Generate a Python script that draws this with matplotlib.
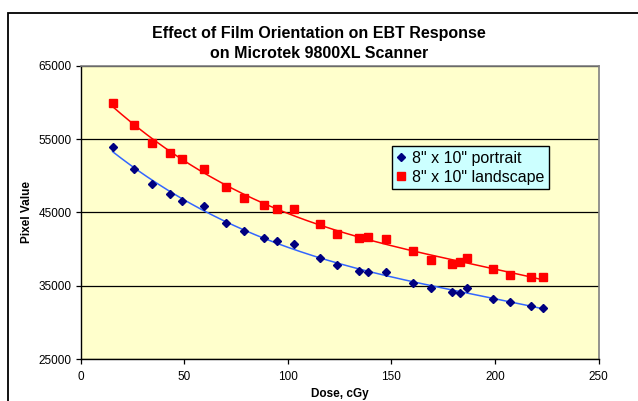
import numpy as np
import matplotlib.pyplot as plt
from matplotlib.patches import Rectangle

plt.rcParams['font.family'] = ['Liberation Sans', 'DejaVu Sans']

# Dose (cGy) for each scanned film strip
dose = [15.5, 25.8, 34.7, 43.3, 49.0, 59.7, 70.1, 79.1, 88.7, 95.0,
        103.2, 115.6, 123.9, 134.4, 138.8, 147.3, 160.3, 169.0, 179.3, 183.3,
        186.7, 198.9, 207.4, 217.6, 223.2]

portrait = [53870, 50900, 48860, 47540, 46540, 45860, 43500, 42410, 41450, 41100,
            40630, 38720, 37770, 37030, 36860, 36900, 35350, 34630, 34130, 34030,
            34710, 33210, 32720, 32220, 31900]

landscape = [59910, 56950, 54410, 53050, 52230, 50950, 48490, 46910, 45950, 45520,
             45450, 43400, 42040, 41450, 41590, 41360, 39760, 38490, 37990, 38260,
             38770, 37220, 36410, 36130, 36210]

labels = ['8" x 10" portrait', '8" x 10" landscape']


def trend(x, y, deg=3):
    # polynomial trendline over the measured dose range
    c = np.polyfit(x, y, deg)
    xs = np.linspace(min(x), max(x), 200)
    return xs, np.polyval(c, xs)


def main():
    fig = plt.figure(figsize=(6.38, 4.01), dpi=100)
    ax = fig.add_axes([80.5 / 638, 1 - 359 / 401, 518 / 638, 293.3 / 401])
    ax.set_facecolor('#FFFFCC')

    # chart border
    fig.patches.append(Rectangle((7.5 / 638, -0.2), 1.2, 0.2 + 1 - 12.5 / 401,
                                 transform=fig.transFigure, fill=False,
                                 edgecolor='black', linewidth=1.3))

    xs, ys = trend(dose, portrait)
    ax.plot(xs, ys, color='#3366FF', lw=1.1, zorder=3)
    xs, ys = trend(dose, landscape)
    ax.plot(xs, ys, color='#FF0000', lw=1.1, zorder=3)

    ax.plot(dose, portrait, 'D', color='#000080', ms=3.8, mec='#000080',
            label=labels[0], zorder=4)
    ax.plot(dose, landscape, 's', color='#FF0000', ms=5.6, mec='#FF0000',
            label=labels[1], zorder=4)

    ax.set_xlim(0, 250)
    ax.set_ylim(25000, 65000)
    ax.set_xticks(range(0, 251, 50))
    ax.set_yticks(range(25000, 65001, 10000))
    ax.grid(axis='y', color='black', lw=0.9)
    ax.set_axisbelow(True)

    for side in ['top', 'right']:
        ax.spines[side].set_color('#808080')
        ax.spines[side].set_linewidth(1.2)
    for side in ['left', 'bottom']:
        ax.spines[side].set_color('black')
        ax.spines[side].set_linewidth(1.0)
    ax.tick_params(direction='out', length=3.5, width=0.9, labelsize=8.5,
                   pad=3, colors='black')
    ax.tick_params(axis='x', pad=5)

    ax.set_xlabel('Dose, cGy', fontsize=8.5, fontweight='bold', labelpad=4)
    ax.set_ylabel('Pixel Value', fontsize=8.5, fontweight='bold', labelpad=4)

    fig.text(0.5, 1 - 43.5 / 401,
             'Effect of Film Orientation on EBT Response\non Microtek 9800XL Scanner',
             ha='center', va='center', fontsize=11.5, fontweight='bold',
             linespacing=1.35)

    leg = ax.legend(loc='upper left', bbox_to_anchor=(0.601, 0.727),
                    fontsize=11.5, frameon=True, fancybox=False,
                    facecolor='#CCFFFF', edgecolor='black', framealpha=1,
                    handlelength=0.6, handletextpad=0.35, borderpad=0.3,
                    labelspacing=0.25, borderaxespad=0)
    leg.get_frame().set_linewidth(1.0)

    fig.savefig('out.png', dpi=100)


if __name__ == '__main__':
    main()
